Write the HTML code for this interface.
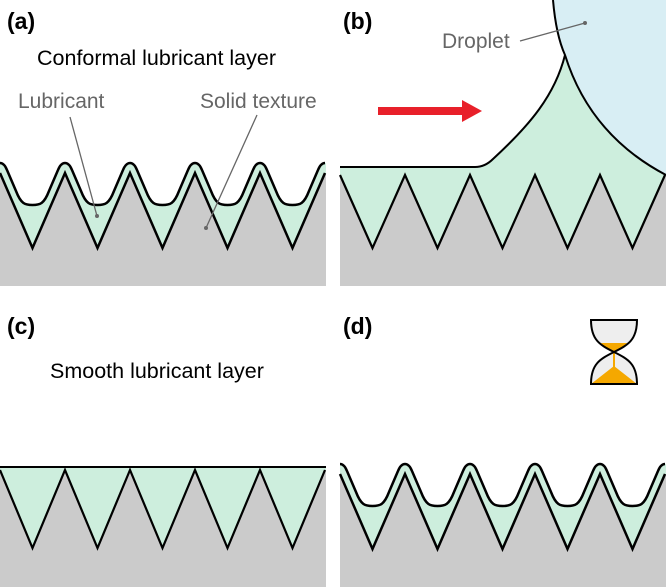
<!DOCTYPE html>
<html><head><meta charset="utf-8"><style>
html,body{margin:0;padding:0;background:#fff;}
svg{display:block;}
text{font-family:"Liberation Sans",Arial,sans-serif;}
</style></head><body>
<svg width="666" height="587" viewBox="0 0 666 587" xmlns="http://www.w3.org/2000/svg">
<defs>
<g id="conf">
  <path d="M0,163 C3,163 5,165 7,170 L16,191 C21,204 25,205 32.5,205 C40,205 44,204 49,191 L58,170 C60,165 62,163 65,163 C68,163 70,165 72,170 L81,191 C86,204 90,205 97.5,205 C105,205 109,204 114,191 L123,170 C125,165 127,163 130,163 C133,163 135,165 137,170 L146,191 C151,204 155,205 162.5,205 C170,205 174,204 179,191 L188,170 C190,165 192,163 195,163 C198,163 200,165 202,170 L211,191 C216,204 220,205 227.5,205 C235,205 239,204 244,191 L253,170 C255,165 257,163 260,163 C263,163 265,165 267,170 L276,191 C281,204 285,205 292.5,205 C300,205 304,204 309,191 L318,170 C320,165 322,163 325,163 L326,163 L326,286 L0,286 Z" fill="#cdeedd"/>
  <path d="M0,173 L32.5,248 L65,173 L97.5,248 L130,173 L162.5,248 L195,173 L227.5,248 L260,173 L292.5,248 L325,173 L326,173 L326,286 L0,286 Z" fill="#cbcbcb"/>
  <path d="M0,173 L32.5,248 L65,173 L97.5,248 L130,173 L162.5,248 L195,173 L227.5,248 L260,173 L292.5,248 L325,173" fill="none" stroke="#000" stroke-width="2.5"/>
  <path d="M0,163 C3,163 5,165 7,170 L16,191 C21,204 25,205 32.5,205 C40,205 44,204 49,191 L58,170 C60,165 62,163 65,163 C68,163 70,165 72,170 L81,191 C86,204 90,205 97.5,205 C105,205 109,204 114,191 L123,170 C125,165 127,163 130,163 C133,163 135,165 137,170 L146,191 C151,204 155,205 162.5,205 C170,205 174,204 179,191 L188,170 C190,165 192,163 195,163 C198,163 200,165 202,170 L211,191 C216,204 220,205 227.5,205 C235,205 239,204 244,191 L253,170 C255,165 257,163 260,163 C263,163 265,165 267,170 L276,191 C281,204 285,205 292.5,205 C300,205 304,204 309,191 L318,170 C320,165 322,163 325,163" fill="none" stroke="#000" stroke-width="2.5"/>
</g>
</defs>

<!-- Panel a -->
<use href="#conf"/>
<text x="7" y="29" font-size="23" font-weight="bold">(a)</text>
<text x="37" y="65" font-size="21.5">Conformal lubricant layer</text>
<text x="18" y="108" font-size="21" fill="#666">Lubricant</text>
<text x="200" y="108" font-size="21" fill="#666">Solid texture</text>
<line x1="70" y1="117" x2="97" y2="216" stroke="#666" stroke-width="1.3"/>
<circle cx="97" cy="216" r="2" fill="#666"/>
<line x1="257" y1="115" x2="206" y2="228" stroke="#666" stroke-width="1.3"/>
<circle cx="206" cy="228" r="2" fill="#666"/>

<!-- Panel b -->
<path d="M553,0 Q556,35 565,55 Q590,135 666,175 L666,0 Z" fill="#d8eef4"/>
<path d="M340,167 L475,167 Q485,167 493,159 C530,125 555,95 565,55 Q590,135 666,175 L666,286 L340,286 Z" fill="#cdeedd"/>
<path d="M340,175 L372.5,248 L405,175 L437.5,248 L470,175 L502.5,248 L535,175 L567.5,248 L600,175 L632.5,248 L665,175 L666,175 L666,286 L340,286 Z" fill="#cbcbcb"/>
<path d="M340,175 L372.5,248 L405,175 L437.5,248 L470,175 L502.5,248 L535,175 L567.5,248 L600,175 L632.5,248 L665,175" fill="none" stroke="#000" stroke-width="2.2"/>
<path d="M340,167 L475,167 Q485,167 493,159 C530,125 555,95 565,55" fill="none" stroke="#000" stroke-width="2"/>
<path d="M553,0 Q556,35 565,55 Q590,135 666,175" fill="none" stroke="#000" stroke-width="2"/>
<text x="343" y="29" font-size="23" font-weight="bold">(b)</text>
<text x="442" y="48" font-size="21" fill="#666">Droplet</text>
<line x1="520" y1="41" x2="585" y2="23" stroke="#666" stroke-width="1.3"/>
<circle cx="585" cy="23" r="2" fill="#666"/>
<rect x="378" y="107" width="86" height="8" fill="#e8202a"/>
<polygon points="462,100 482,111 462,122" fill="#e8202a"/>

<!-- Panel c -->
<path d="M0,467 L326,467 L326,587 L0,587 Z" fill="#cdeedd"/>
<path d="M0,470 L32.5,548 L65,470 L97.5,548 L130,470 L162.5,548 L195,470 L227.5,548 L260,470 L292.5,548 L325,470 L326,470 L326,587 L0,587 Z" fill="#cbcbcb"/>
<path d="M0,470 L32.5,548 L65,470 L97.5,548 L130,470 L162.5,548 L195,470 L227.5,548 L260,470 L292.5,548 L325,470" fill="none" stroke="#000" stroke-width="2.2"/>
<line x1="0" y1="467" x2="326" y2="467" stroke="#000" stroke-width="2"/>
<text x="7" y="334" font-size="23" font-weight="bold">(c)</text>
<text x="50" y="378" font-size="21.5">Smooth lubricant layer</text>

<!-- Panel d -->
<use href="#conf" transform="translate(340,301)"/>
<text x="343" y="334" font-size="23" font-weight="bold">(d)</text>
<!-- hourglass -->
<path d="M591,320 L637,320 C637,340 628,345 614,352 C600,345 591,340 591,320 Z" fill="#eeeeee"/>
<path d="M614,352 C628,359 637,364 637,384 L591,384 C591,364 600,359 614,352 Z" fill="#eeeeee"/>
<path d="M601,343 L627,343 C622,348 618,350 614,352 C610,350 606,348 601,343 Z" fill="#f5a800"/>
<path d="M614,366 L637,384 L591,384 Z" fill="#f5a800"/>
<line x1="614" y1="352" x2="614" y2="372" stroke="#f5a800" stroke-width="2"/>
<path d="M591,320 L637,320 C637,340 628,345 614,352 C628,359 637,364 637,384 L591,384 C591,364 600,359 614,352 C600,345 591,340 591,320 Z" fill="none" stroke="#000" stroke-width="2"/>
</svg>
</body></html>
